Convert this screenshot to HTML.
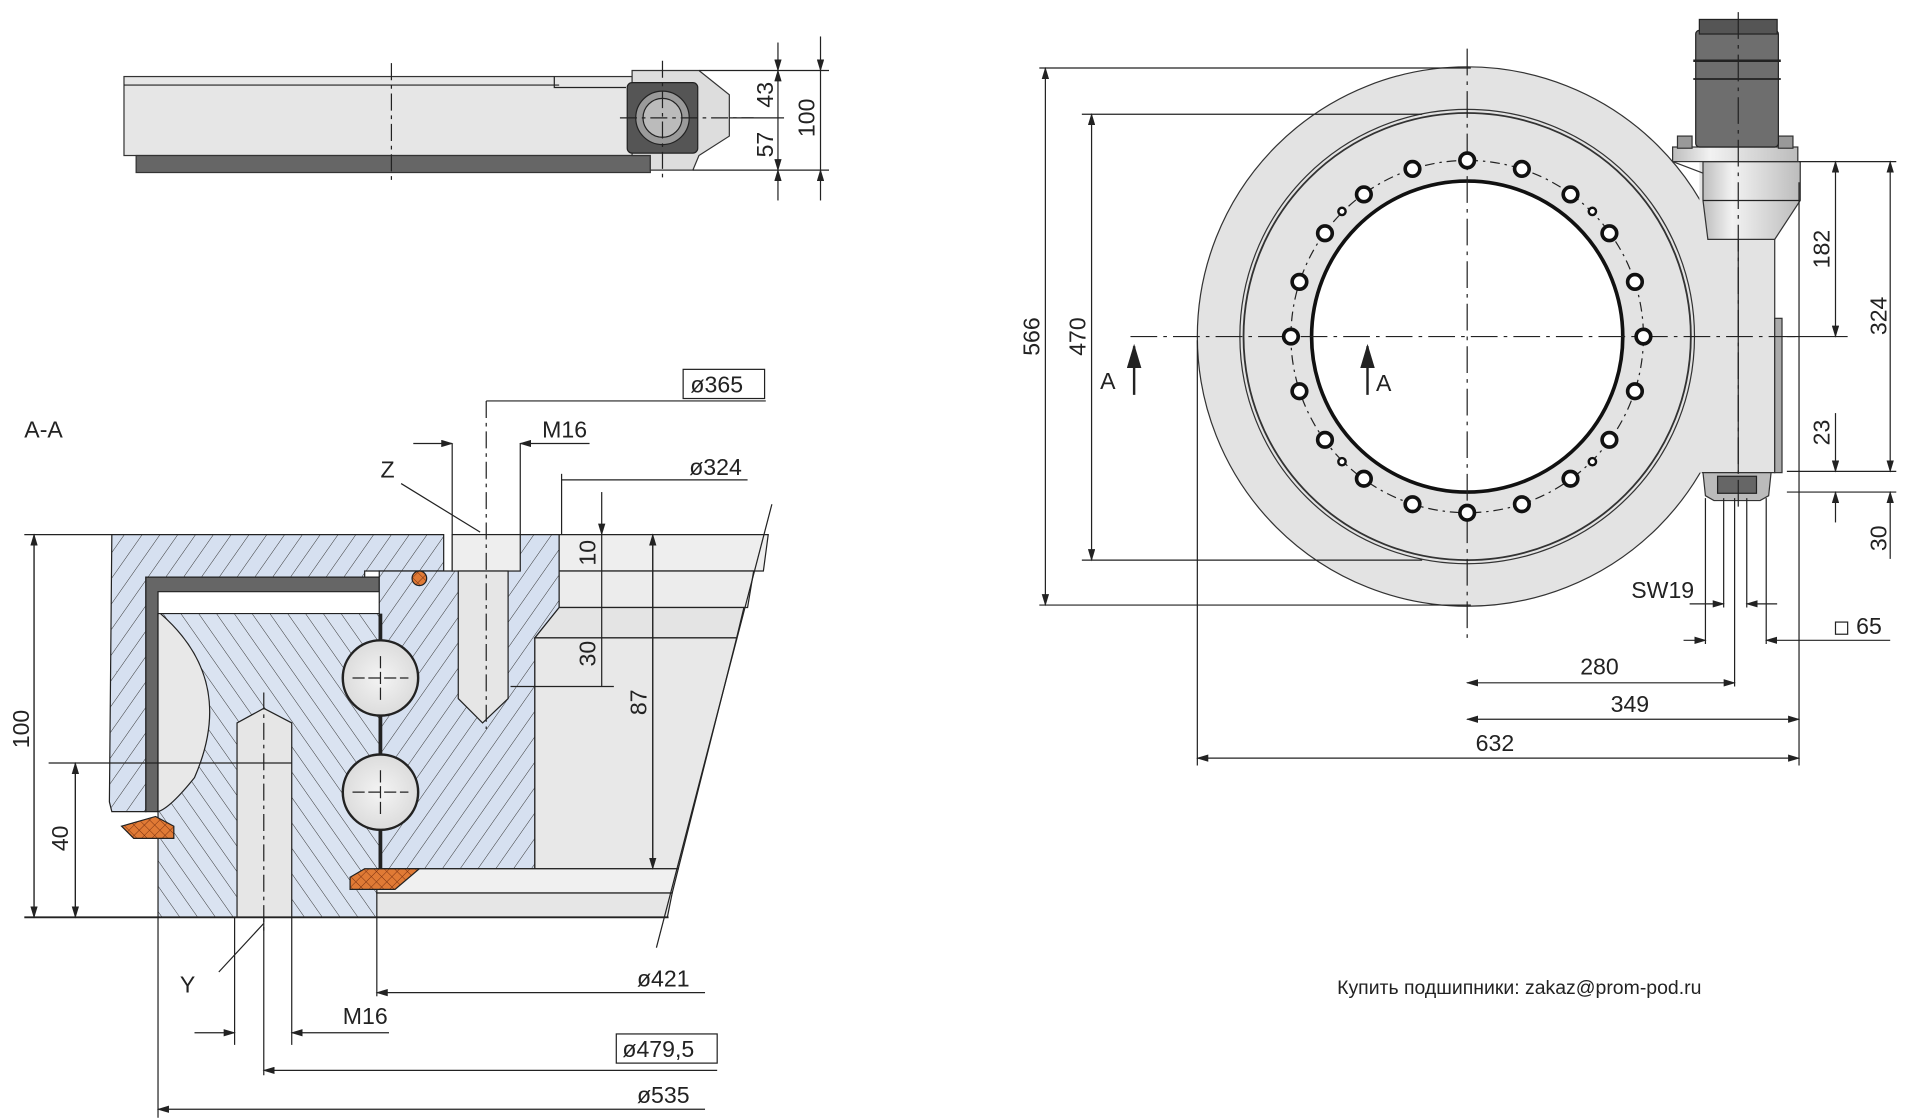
<!DOCTYPE html>
<html><head><meta charset="utf-8"><style>
html,body{margin:0;padding:0;background:#fff;}
svg{display:block;}
text{font-family:"Liberation Sans","DejaVu Sans",sans-serif;font-size:19px;fill:#222;}
</style></head><body>
<svg width="1906" height="1119" viewBox="0 0 1568 921" preserveAspectRatio="none" xmlns="http://www.w3.org/2000/svg">
<defs>
<pattern id="h1" width="12" height="12" patternUnits="userSpaceOnUse" patternTransform="rotate(35)">
<rect width="12" height="12" fill="#d6e0f0"/><line x1="0" y1="0" x2="0" y2="12" stroke="#333" stroke-width="0.8"/></pattern>
<pattern id="h2" width="12" height="12" patternUnits="userSpaceOnUse" patternTransform="rotate(-35)">
<rect width="12" height="12" fill="#dae3f1"/><line x1="0" y1="0" x2="0" y2="12" stroke="#333" stroke-width="0.8"/></pattern>
<pattern id="x1" width="6" height="6" patternUnits="userSpaceOnUse" patternTransform="rotate(45)">
<rect width="6" height="6" fill="#e07a35"/><line x1="0" y1="0" x2="0" y2="6" stroke="#7a3010" stroke-width="0.8"/><line x1="0" y1="0" x2="6" y2="0" stroke="#7a3010" stroke-width="0.8"/></pattern>
<radialGradient id="rg" cx="0.5" cy="0.5" r="0.5"><stop offset="0" stop-color="#f4f4f4"/><stop offset="1" stop-color="#dcdcdc"/></radialGradient>
<linearGradient id="cyl" x1="0" x2="1"><stop offset="0" stop-color="#bdbdbd"/><stop offset="0.3" stop-color="#f2f2f2"/><stop offset="1" stop-color="#bcbcbc"/></linearGradient>
<marker id="a" markerWidth="10" markerHeight="6" refX="9" refY="3" orient="auto"><path d="M0,0 L10,3 L0,6z" fill="#222"/></marker>
<marker id="b" markerWidth="10" markerHeight="6" refX="1" refY="3" orient="auto"><path d="M10,0 L0,3 L10,6z" fill="#222"/></marker>
</defs>
<g stroke="#222" stroke-width="1" fill="none">

<!-- TOP VIEW -->
<rect x="102" y="63" width="418" height="65" fill="#e6e6e6" stroke="#333"/>
<line x1="102" y1="70" x2="460" y2="70"/>
<path d="M456,63 L456,72 L515,72"/>
<rect x="112" y="128" width="423" height="14" fill="#666" stroke="#333"/>
<path d="M520,58 L575,58 L600,78 L600,112 L575,128 L570,140 L535,140 L535,128 L520,128z" fill="#ddd" stroke="#333"/>
<rect x="516" y="68" width="58" height="58" rx="4" fill="#555" stroke="#222"/>
<circle cx="545" cy="97" r="22" fill="#9a9a9a"/>
<circle cx="545" cy="97" r="16" fill="#bbb"/>
<line x1="322" y1="52" x2="322" y2="150" stroke-dasharray="14,4,3,4"/>
<line x1="510" y1="97" x2="620" y2="97" stroke-dasharray="14,4,3,4"/>
<line x1="545" y1="50" x2="545" y2="150" stroke-dasharray="14,4,3,4"/>
<line x1="575" y1="58" x2="682" y2="58"/><line x1="600" y1="97" x2="645" y2="97"/>
<line x1="570" y1="140" x2="682" y2="140"/>
<line x1="640" y1="35" x2="640" y2="58" marker-end="url(#a)"/>
<line x1="640" y1="97" x2="640" y2="58" marker-end="url(#a)"/>
<line x1="640" y1="97" x2="640" y2="140" marker-end="url(#a)"/>
<line x1="640" y1="165" x2="640" y2="140" marker-end="url(#a)"/>
<line x1="675" y1="30" x2="675" y2="58" marker-end="url(#a)"/>
<line x1="675" y1="58" x2="675" y2="140"/>
<line x1="675" y1="165" x2="675" y2="140" marker-end="url(#a)"/>

<!-- SECTION A-A -->
<path d="M92,440 L365,440 L365,470 L300,470 L300,475 L120,475 L120,668 L92,668 L90,660z" fill="url(#h1)"/>
<path d="M120,475 L312,475 L312,487 L130,487 L130,668 L120,668z" fill="#666" stroke="#222"/>
<path d="M130,505 L312,505 L312,755 L130,755z" fill="url(#h2)"/>
<path d="M130,505 L132,505 Q195,560 160,640 Q140,665 130,668z" fill="#e8e8e8"/>
<path d="M312,470 L372,470 L372,440 L460,440 L460,500 L440,525 L440,715 L312,715z" fill="url(#h1)"/>
<path d="M460,440 L632,440 L628,470 L460,470z" fill="#eee"/>
<path d="M460,470 L620,470 L615,500 L460,500z" fill="#ececec"/>
<path d="M460,500 L612,500 L606,525 L440,525z" fill="#e4e4e4"/>
<path d="M440,525 L606,525 L558,715 L440,715z" fill="#e8e8e8"/>
<path d="M310,715 L558,715 L553,735 L310,735z" fill="#f0f0f0"/>
<path d="M310,735 L553,735 L549,755 L310,755z" fill="#e6e6e6"/>
<line x1="635" y1="415" x2="540" y2="780"/>
<line x1="313" y1="505" x2="313" y2="715" stroke-width="3"/>
<circle cx="313" cy="558" r="31" fill="url(#rg)" stroke-width="2"/>
<circle cx="313" cy="652" r="31" fill="url(#rg)" stroke-width="2"/>
<path d="M290,558 h46 M313,540 v36 M290,652 h46 M313,634 v36" stroke-dasharray="10,3"/>
<rect x="372" y="440" width="56" height="30" fill="#eee"/>
<path d="M377,470 L418,470 L418,575 L397,595 L377,575z" fill="#e6e6e6"/>
<line x1="400" y1="330" x2="400" y2="600" stroke-dasharray="14,4,3,4"/>
<path d="M195,595 L217,583 L240,595 L240,755 L195,755z" fill="#e6e6e6"/>
<line x1="217" y1="570" x2="217" y2="770" stroke-dasharray="14,4,3,4"/>
<path d="M100,680 L128,672 L143,680 L143,690 L110,690z" fill="url(#x1)"/>
<path d="M288,722 L300,715 L345,715 L325,732 L288,732z" fill="url(#x1)"/>
<circle cx="345" cy="476" r="6" fill="url(#x1)"/>
<line x1="20" y1="440" x2="92" y2="440"/><line x1="20" y1="755" x2="550" y2="755" stroke-width="1.5"/>
<line x1="28" y1="755" x2="28" y2="440" marker-end="url(#a)"/><line x1="28" y1="440" x2="28" y2="755" marker-end="url(#a)"/>
<line x1="40" y1="628" x2="240" y2="628"/>
<line x1="62" y1="755" x2="62" y2="628" marker-end="url(#a)"/><line x1="62" y1="628" x2="62" y2="755" marker-end="url(#a)"/>
<line x1="495" y1="405" x2="495" y2="440" marker-end="url(#a)"/><line x1="495" y1="440" x2="495" y2="470"/><line x1="495" y1="470" x2="495" y2="565"/>
<line x1="420" y1="565" x2="505" y2="565"/>
<line x1="537" y1="440" x2="537" y2="715" marker-end="url(#a)"/><line x1="537" y1="715" x2="537" y2="440" marker-end="url(#a)"/>
<line x1="400" y1="330" x2="630" y2="330"/>
<line x1="372" y1="365" x2="372" y2="440"/><line x1="428" y1="365" x2="428" y2="440"/>
<line x1="340" y1="365" x2="372" y2="365" marker-end="url(#a)"/><line x1="485" y1="365" x2="428" y2="365" marker-end="url(#a)"/>
<line x1="462" y1="390" x2="462" y2="440"/><line x1="462" y1="395" x2="615" y2="395"/>
<line x1="330" y1="398" x2="395" y2="438"/>
<line x1="310" y1="755" x2="310" y2="820"/><line x1="310" y1="817" x2="580" y2="817" marker-start="url(#b)"/>
<line x1="193" y1="755" x2="193" y2="860"/><line x1="240" y1="755" x2="240" y2="860"/>
<line x1="160" y1="850" x2="193" y2="850" marker-end="url(#a)"/><line x1="320" y1="850" x2="240" y2="850" marker-end="url(#a)"/>
<line x1="217" y1="755" x2="217" y2="885"/><line x1="217" y1="881" x2="590" y2="881" marker-start="url(#b)"/>
<line x1="130" y1="755" x2="130" y2="920"/><line x1="130" y1="913" x2="580" y2="913" marker-start="url(#b)"/>
<line x1="180" y1="800" x2="217" y2="760"/>
<rect x="562" y="304" width="67" height="24" fill="#fff"/>
<rect x="507" y="851" width="83" height="24" fill="#fff"/>

<!-- RIGHT VIEW -->
<circle cx="1207" cy="277" r="222" fill="#e3e3e3" stroke="#333"/>
<path d="M1376,133 L1460,133 L1460,389 L1398,389 L1398,133z" fill="#e3e3e3" stroke="none"/>
<path d="M1376,133 L1460,165 L1460,389 L1400,389" fill="none" stroke="#333"/>
<circle cx="1207" cy="277" r="187" stroke="#333"/>
<circle cx="1207" cy="277" r="184" stroke="#333" stroke-width="1.5"/>
<circle cx="1207" cy="277" r="145" stroke-dasharray="8,4,2,4"/>
<circle cx="1207" cy="277" r="128" fill="#fff" stroke="#111" stroke-width="3"/>
<line x1="1430" y1="197" x2="1430" y2="389"/>
<path d="M1401,133 L1481,133 L1481,165 L1460,197 L1405,197 L1401,165z" fill="url(#cyl)" stroke="#333"/>
<line x1="1401" y1="165" x2="1481" y2="165"/>
<rect x="1376" y="121" width="103" height="12" fill="url(#cyl)" stroke="#333"/>
<rect x="1380" y="112" width="12" height="10" fill="#999" stroke="#333"/>
<rect x="1463" y="112" width="12" height="10" fill="#999" stroke="#333"/>
<rect x="1395" y="25" width="68" height="96" rx="3" fill="#6e6e6e" stroke="#222"/>
<line x1="1393" y1="50" x2="1465" y2="50" stroke="#222" stroke-width="2"/>
<line x1="1393" y1="65" x2="1465" y2="65" stroke="#222" stroke-width="1.5"/>
<rect x="1398" y="16" width="64" height="12" fill="#555" stroke="#222"/>
<rect x="1460" y="262" width="6" height="127" fill="#aaa" stroke="#333"/>
<path d="M1401,389 L1457,389 L1455,408 L1448,412 L1410,412 L1403,408z" fill="#bbb" stroke="#333"/>
<rect x="1413" y="392" width="32" height="14" fill="#666"/>
<line x1="930" y1="277" x2="1480" y2="277" stroke-dasharray="22,5,3,5"/>
<line x1="1207" y1="40" x2="1207" y2="530" stroke-dasharray="22,5,3,5"/>
<line x1="1430" y1="10" x2="1430" y2="420" stroke-dasharray="22,5,3,5"/>
<line x1="855" y1="56" x2="1210" y2="56"/><line x1="855" y1="498" x2="1210" y2="498"/>
<line x1="860" y1="56" x2="860" y2="498" marker-start="url(#b)" marker-end="url(#a)"/>
<line x1="890" y1="94" x2="1170" y2="94"/><line x1="890" y1="461" x2="1170" y2="461"/>
<line x1="898" y1="94" x2="898" y2="461" marker-start="url(#b)" marker-end="url(#a)"/>
<line x1="933" y1="325" x2="933" y2="285" marker-end="url(#a)" stroke-width="2"/><line x1="1125" y1="325" x2="1125" y2="285" marker-end="url(#a)" stroke-width="2"/>
<line x1="1480" y1="133" x2="1560" y2="133"/><line x1="1470" y1="277" x2="1520" y2="277"/>
<line x1="1470" y1="388" x2="1560" y2="388"/><line x1="1470" y1="405" x2="1560" y2="405"/>
<line x1="1510" y1="133" x2="1510" y2="277" marker-start="url(#b)" marker-end="url(#a)"/>
<line x1="1555" y1="133" x2="1555" y2="388" marker-start="url(#b)" marker-end="url(#a)"/>
<line x1="1510" y1="340" x2="1510" y2="388" marker-end="url(#a)"/><line x1="1510" y1="430" x2="1510" y2="405" marker-end="url(#a)"/>
<line x1="1555" y1="460" x2="1555" y2="405" marker-end="url(#a)"/>
<line x1="1403" y1="410" x2="1403" y2="530"/><line x1="1453" y1="410" x2="1453" y2="530"/>
<line x1="1418" y1="410" x2="1418" y2="500"/><line x1="1437" y1="410" x2="1437" y2="500"/>
<line x1="1427" y1="410" x2="1427" y2="565"/>
<line x1="1390" y1="497" x2="1418" y2="497" marker-end="url(#a)"/><line x1="1462" y1="497" x2="1437" y2="497" marker-end="url(#a)"/>
<line x1="1385" y1="527" x2="1403" y2="527" marker-end="url(#a)"/><line x1="1555" y1="527" x2="1453" y2="527" marker-end="url(#a)"/>
<line x1="1480" y1="150" x2="1480" y2="630"/><line x1="985" y1="280" x2="985" y2="630"/>
<line x1="1207" y1="562" x2="1427" y2="562" marker-start="url(#b)" marker-end="url(#a)"/>
<line x1="1207" y1="592" x2="1480" y2="592" marker-start="url(#b)" marker-end="url(#a)"/>
<line x1="985" y1="624" x2="1480" y2="624" marker-start="url(#b)" marker-end="url(#a)"/>
</g>
<g fill="#fff" stroke="#111" stroke-width="3">
<circle cx="1207" cy="132" r="6"/><circle cx="1252" cy="139" r="6"/><circle cx="1292" cy="160" r="6"/><circle cx="1324" cy="192" r="6"/><circle cx="1345" cy="232" r="6"/><circle cx="1352" cy="277" r="6"/><circle cx="1345" cy="322" r="6"/><circle cx="1324" cy="362" r="6"/><circle cx="1292" cy="394" r="6"/><circle cx="1252" cy="415" r="6"/><circle cx="1207" cy="422" r="6"/><circle cx="1162" cy="415" r="6"/><circle cx="1122" cy="394" r="6"/><circle cx="1090" cy="362" r="6"/><circle cx="1069" cy="322" r="6"/><circle cx="1062" cy="277" r="6"/><circle cx="1069" cy="232" r="6"/><circle cx="1090" cy="192" r="6"/><circle cx="1122" cy="160" r="6"/><circle cx="1162" cy="139" r="6"/>
</g>
<g fill="#fff" stroke="#111" stroke-width="2">
<circle cx="1310" cy="174" r="3"/><circle cx="1310" cy="380" r="3"/><circle cx="1104" cy="380" r="3"/><circle cx="1104" cy="174" r="3"/>
</g>
<text x="20" y="360">A-A</text>
<text x="313" y="393">Z</text>
<text x="446" y="360">M16</text>
<text x="568" y="323">ø365</text>
<text x="567" y="391">ø324</text>
<text x="148" y="817">Y</text>
<text x="282" y="843">M16</text>
<text x="524" y="812">ø421</text>
<text x="512" y="870">ø479,5</text>
<text x="524" y="908">ø535</text>
<text transform="translate(24,600) rotate(-90)" text-anchor="middle">100</text>
<text transform="translate(56,690) rotate(-90)" text-anchor="middle">40</text>
<text transform="translate(490,455) rotate(-90)" text-anchor="middle">10</text>
<text transform="translate(490,538) rotate(-90)" text-anchor="middle">30</text>
<text transform="translate(532,578) rotate(-90)" text-anchor="middle">87</text>
<text transform="translate(636,78) rotate(-90)" text-anchor="middle">43</text>
<text transform="translate(636,119) rotate(-90)" text-anchor="middle">57</text>
<text transform="translate(670,97) rotate(-90)" text-anchor="middle">100</text>
<text transform="translate(855,277) rotate(-90)" text-anchor="middle">566</text>
<text transform="translate(893,277) rotate(-90)" text-anchor="middle">470</text>
<text x="905" y="320">A</text><text x="1132" y="322">A</text>
<text transform="translate(1505,205) rotate(-90)" text-anchor="middle">182</text>
<text transform="translate(1552,260) rotate(-90)" text-anchor="middle">324</text>
<text transform="translate(1505,356) rotate(-90)" text-anchor="middle">23</text>
<text transform="translate(1552,443) rotate(-90)" text-anchor="middle">30</text>
<text x="1342" y="492">SW19</text>
<rect x="1510" y="512" width="10" height="10" fill="none" stroke="#222"/>
<text x="1527" y="522">65</text>
<text x="1300" y="555">280</text>
<text x="1325" y="586">349</text>
<text x="1214" y="618">632</text>
<text x="1100" y="818" style="font-size:16px">Купить подшипники: zakaz@prom-pod.ru</text>
</svg>
</body></html>
